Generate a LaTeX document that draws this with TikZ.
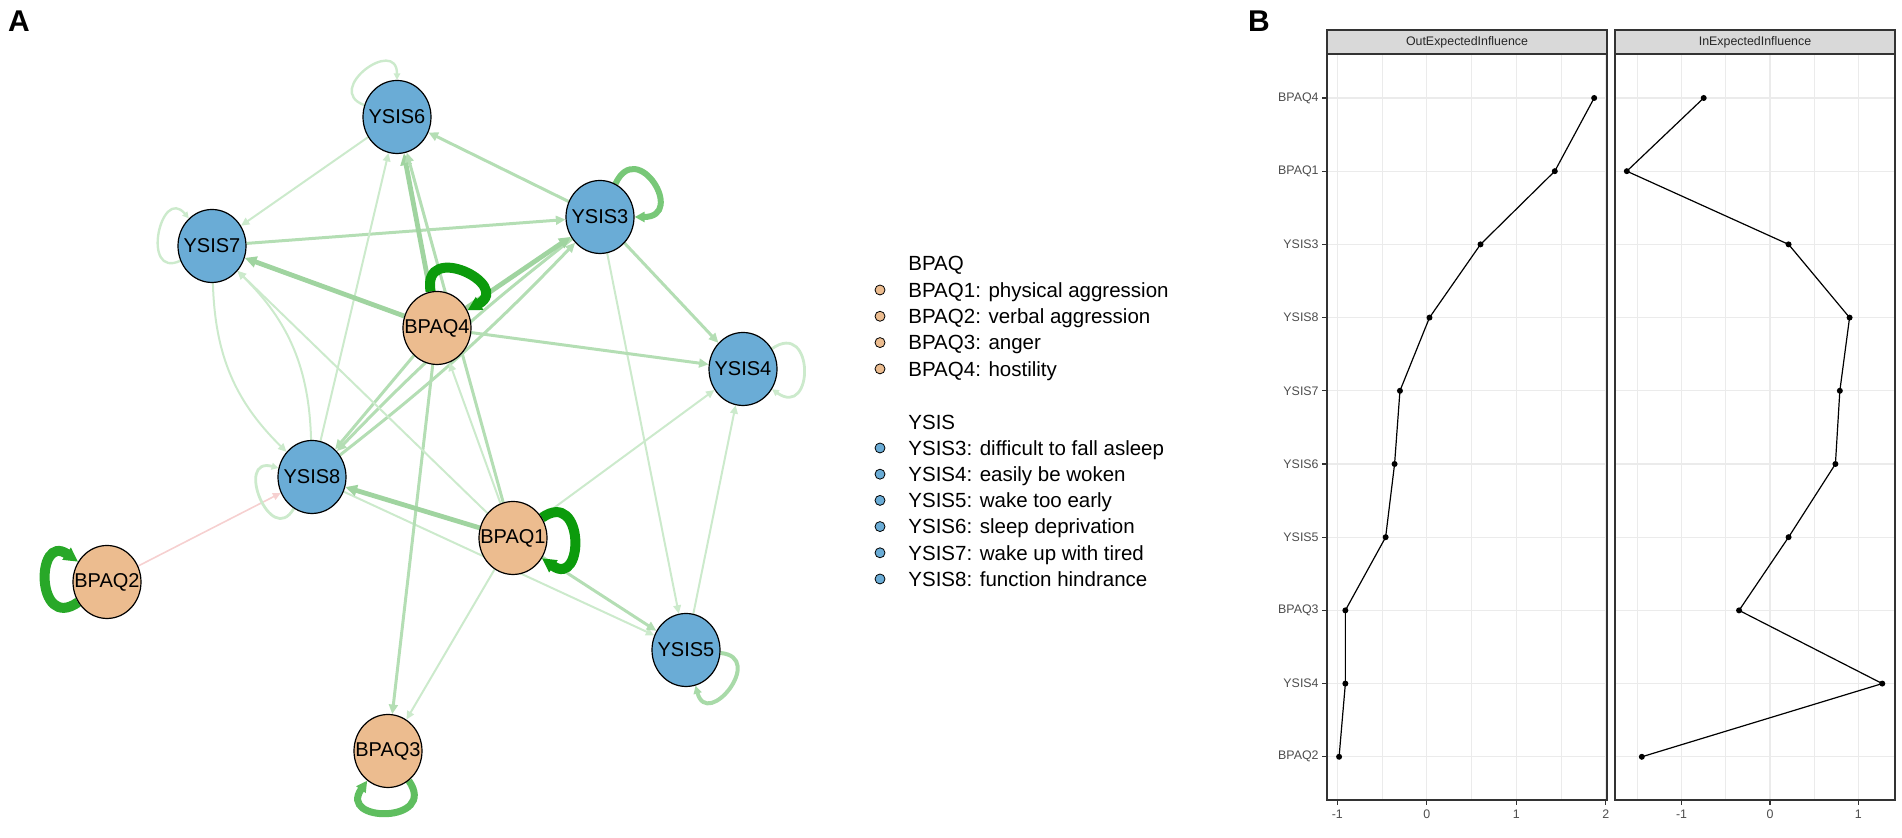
\documentclass[tikz,border=0pt]{standalone}
\usepackage{fontspec}
\setmainfont{Liberation Sans}
\usepackage{tikz}
\usetikzlibrary{arrows.meta,shapes.geometric}

\definecolor{bpaqfill}{RGB}{236,188,143}
\definecolor{ysisfill}{RGB}{106,172,214}
\definecolor{palegreen}{RGB}{204,234,204}
\definecolor{midgreen}{RGB}{180,222,180}
\definecolor{heavygreen}{RGB}{160,212,160}
\definecolor{negpink}{RGB}{246,208,208}
\definecolor{loopdark}{RGB}{12,155,12}
\definecolor{loopstrong}{RGB}{40,168,40}
\definecolor{loopmid}{RGB}{95,190,95}
\definecolor{loopsoft}{RGB}{120,200,120}
\definecolor{looplight}{RGB}{168,218,168}
\definecolor{grid92}{RGB}{235,235,235}
\definecolor{grey20}{RGB}{51,51,51}
\definecolor{grey30}{RGB}{77,77,77}
\definecolor{grey85}{RGB}{217,217,217}

\pgfdeclarelayer{edgelayer}
\pgfsetlayers{edgelayer,main}

\begin{document}
\begin{tikzpicture}[x=0.5pt,y=0.5pt,
                    >={Triangle[length=3pt 1.2,width=2.6pt 1.2]}]
\tikzstyle{bpaq}=[ellipse,draw=black,line width=0.6pt,fill=bpaqfill,
                  minimum width=34pt,minimum height=36.5pt,inner sep=0pt,
                  label={[font=\fontsize{10}{12}\selectfont,inner sep=0pt]center:#1}]
\tikzstyle{ysis}=[bpaq=#1,fill=ysisfill]
\tikzstyle{wlight}=[->,draw=palegreen,line width=1pt]
\tikzstyle{wmid}=[->,draw=midgreen,line width=1.5pt]
\tikzstyle{wheavy}=[->,draw=heavygreen,line width=2.4pt]
\tikzstyle{wneg}=[->,draw=negpink,line width=0.8pt]
\tikzstyle{selfloop}=[-{Triangle[length=2pt 1,width=2pt 1]},min distance=26pt]
\tikzstyle{legtext}=[anchor=west,inner sep=0pt,text height=7.3pt,text depth=0pt,
                     font=\fontsize{10.25}{12}\selectfont]
\tikzstyle{legdot}=[draw=black,line width=0.4pt]
\tikzstyle{panelletter}=[font=\fontsize{15}{18}\selectfont\bfseries]
\tikzstyle{gridmajor}=[draw=grid92,line width=0.6pt]
\tikzstyle{gridminor}=[draw=grid92,line width=0.35pt]
\tikzstyle{frame}=[draw=grey20,line width=0.6pt]
\tikzstyle{axislab}=[text=grey30,inner sep=0pt,font=\fontsize{6.2}{7}\selectfont]
\tikzstyle{striplab}=[text=black!85,font=\fontsize{6.2}{7}\selectfont]

\useasboundingbox (0,0) rectangle (1902,838);

% panel A: network
\node[panelletter] (labA) at (19,817) {A};

\node[ysis=YSIS6] (YSIS6) at (397,721) {};
\node[ysis=YSIS7] (YSIS7) at (212,592) {};
\node[ysis=YSIS3] (YSIS3) at (600,621) {};
\node[bpaq=BPAQ4] (BPAQ4) at (437,510) {};
\node[ysis=YSIS4] (YSIS4) at (743,469) {};
\node[ysis=YSIS8] (YSIS8) at (312,361) {};
\node[bpaq=BPAQ1] (BPAQ1) at (513,300) {};
\node[bpaq=BPAQ2] (BPAQ2) at (107,256) {};
\node[ysis=YSIS5] (YSIS5) at (686,188) {};
\node[bpaq=BPAQ3] (BPAQ3) at (388,87) {};

\begin{pgfonlayer}{edgelayer}
\path (YSIS3) edge[wmid] (YSIS6) edge[wmid] (YSIS4) edge[wlight] (YSIS5)
              edge[wmid,bend right=4] (YSIS8)
      (YSIS6) edge[wlight] (YSIS7)
      (YSIS7) edge[wmid] (YSIS3) edge[wlight,bend right=22] (YSIS8)
      (YSIS8) edge[wlight,bend right=22] (YSIS7) edge[wlight] (YSIS6)
              edge[wmid,bend right=4] (YSIS3) edge[wlight] (YSIS5)
      (BPAQ4) edge[wheavy] (YSIS7) edge[wheavy] (YSIS6) edge[wheavy] (YSIS3)
              edge[wmid] (YSIS8) edge[wmid] (YSIS4) edge[wmid] (BPAQ3)
      (BPAQ1) edge[wmid] (YSIS6) edge[wlight] (YSIS7) edge[wheavy] (YSIS8)
              edge[wmid] (YSIS5) edge[wlight] (YSIS4) edge[wlight] (BPAQ4)
              edge[wlight] (BPAQ3)
      (YSIS5) edge[wlight] (YSIS4)
      (BPAQ2) edge[wneg] (YSIS8);

% self loops
\path (YSIS6) edge[selfloop,draw=palegreen,line width=1.2pt,out=160,in=90,min distance=22pt] (YSIS6)
      (YSIS7) edge[selfloop,draw=palegreen,line width=1.2pt,out=205,in=130,min distance=22pt] (YSIS7)
      (YSIS3) edge[selfloop,draw=loopsoft,line width=3pt,out=65,in=0] (YSIS3)
      (BPAQ4) edge[selfloop,draw=loopdark,line width=5pt,out=100,in=30] (BPAQ4)
      (YSIS8) edge[selfloop,draw=palegreen,line width=1.4pt,out=240,in=165,min distance=23pt] (YSIS8)
      (BPAQ1) edge[selfloop,draw=loopdark,line width=5pt,out=35,in=-35] (BPAQ1)
      (BPAQ2) edge[selfloop,draw=loopstrong,line width=5pt,out=215,in=145] (BPAQ2)
      (BPAQ3) edge[selfloop,draw=loopmid,line width=3.5pt,out=-55,in=-125] (BPAQ3)
      (YSIS4) edge[selfloop,draw=palegreen,line width=1.4pt,out=35,in=-35] (YSIS4)
      (YSIS5) edge[selfloop,draw=looplight,line width=2pt,out=-5,in=-75,min distance=23pt] (YSIS5);
\end{pgfonlayer}

% legend
\node[legtext] (legBPAQ) at (908,575) {BPAQ};
\foreach \lab [count=\k] in {BPAQ1: physical aggression,BPAQ2: verbal aggression,
                             BPAQ3: anger,BPAQ4: hostility} {
  \filldraw[legdot,fill=bpaqfill] (880,{548-26.3*(\k-1)}) circle (5);
  \node[legtext] (legb\k) at (908,{548-26.3*(\k-1)}) {\lab};
}
\node[legtext] (legYSIS) at (908,416) {YSIS};
\foreach \lab [count=\k] in {YSIS3: difficult to fall asleep,YSIS4: easily be woken,
                             YSIS5: wake too early,YSIS6: sleep deprivation,
                             YSIS7: wake up with tired,YSIS8: function hindrance} {
  \filldraw[legdot,fill=ysisfill] (880,{390-26.2*(\k-1)}) circle (5);
  \node[legtext] (legy\k) at (908,{390-26.2*(\k-1)}) {\lab};
}

% panel B: centrality plot
\node[panelletter] (labB) at (1259,817) {B};

% grid
\foreach \v in {-0.5,0.5,1.5}
  \draw[gridminor] ({1426.8+89.5*\v},38) -- ({1426.8+89.5*\v},784);
\foreach \v in {-1.5,-0.5,0.5}
  \draw[gridminor] ({1770+88.4*\v},38) -- ({1770+88.4*\v},784);
\foreach \v in {-1,0,1,2}
  \draw[gridmajor] ({1426.8+89.5*\v},38) -- ({1426.8+89.5*\v},784);
\foreach \v in {-1,0,1}
  \draw[gridmajor] ({1770+88.4*\v},38) -- ({1770+88.4*\v},784);
\foreach \k in {0,...,9} {
  \draw[gridmajor] (1327,{740-73.2*\k}) -- (1607,{740-73.2*\k});
  \draw[gridmajor] (1615,{740-73.2*\k}) -- (1895,{740-73.2*\k});
}

% frames and strips
\draw[frame] (1327,38) rectangle (1607,784);
\draw[frame] (1615,38) rectangle (1895,784);
\filldraw[frame,fill=grey85] (1327,784) rectangle (1607,808);
\filldraw[frame,fill=grey85] (1615,784) rectangle (1895,808);
\node[striplab] (stripOut) at (1467,796) {OutExpectedInfluence};
\node[striplab] (stripIn) at (1755,796) {InExpectedInfluence};

% axes
\foreach \lab [count=\k] in {BPAQ4,BPAQ1,YSIS3,YSIS8,YSIS7,YSIS6,YSIS5,BPAQ3,YSIS4,BPAQ2} {
  \draw[frame] (1322,{740-73.2*(\k-1)}) -- (1327,{740-73.2*(\k-1)});
  \node[axislab,anchor=east] (ylab\k) at (1319,{740-73.2*(\k-1)}) {\lab};
}
\foreach \v in {-1,0,1,2} {
  \draw[frame] ({1426.8+89.5*\v},38) -- ({1426.8+89.5*\v},33);
  \node[axislab] at ({1426.8+89.5*\v},24) {\v};
}
\foreach \v in {-1,0,1} {
  \draw[frame] ({1770+88.4*\v},38) -- ({1770+88.4*\v},33);
  \node[axislab] at ({1770+88.4*\v},24) {\v};
}

% data
\foreach \v [count=\k] in {1.87,1.43,0.60,0.03,-0.30,-0.36,-0.46,-0.91,-0.91,-0.98}
  \coordinate (out\k) at ({1426.8+89.5*\v},{740-73.2*(\k-1)});
\foreach \v [count=\k] in {-0.75,-1.62,0.21,0.90,0.79,0.74,0.21,-0.35,1.27,-1.45}
  \coordinate (in\k) at ({1770+88.4*\v},{740-73.2*(\k-1)});
\draw[line width=0.6pt] (out1) \foreach \k in {2,...,10} { -- (out\k) };
\draw[line width=0.6pt] (in1) \foreach \k in {2,...,10} { -- (in\k) };
\foreach \k in {1,...,10} {
  \fill (out\k) circle (3);
  \fill (in\k) circle (3);
}
\end{tikzpicture}
\end{document}
